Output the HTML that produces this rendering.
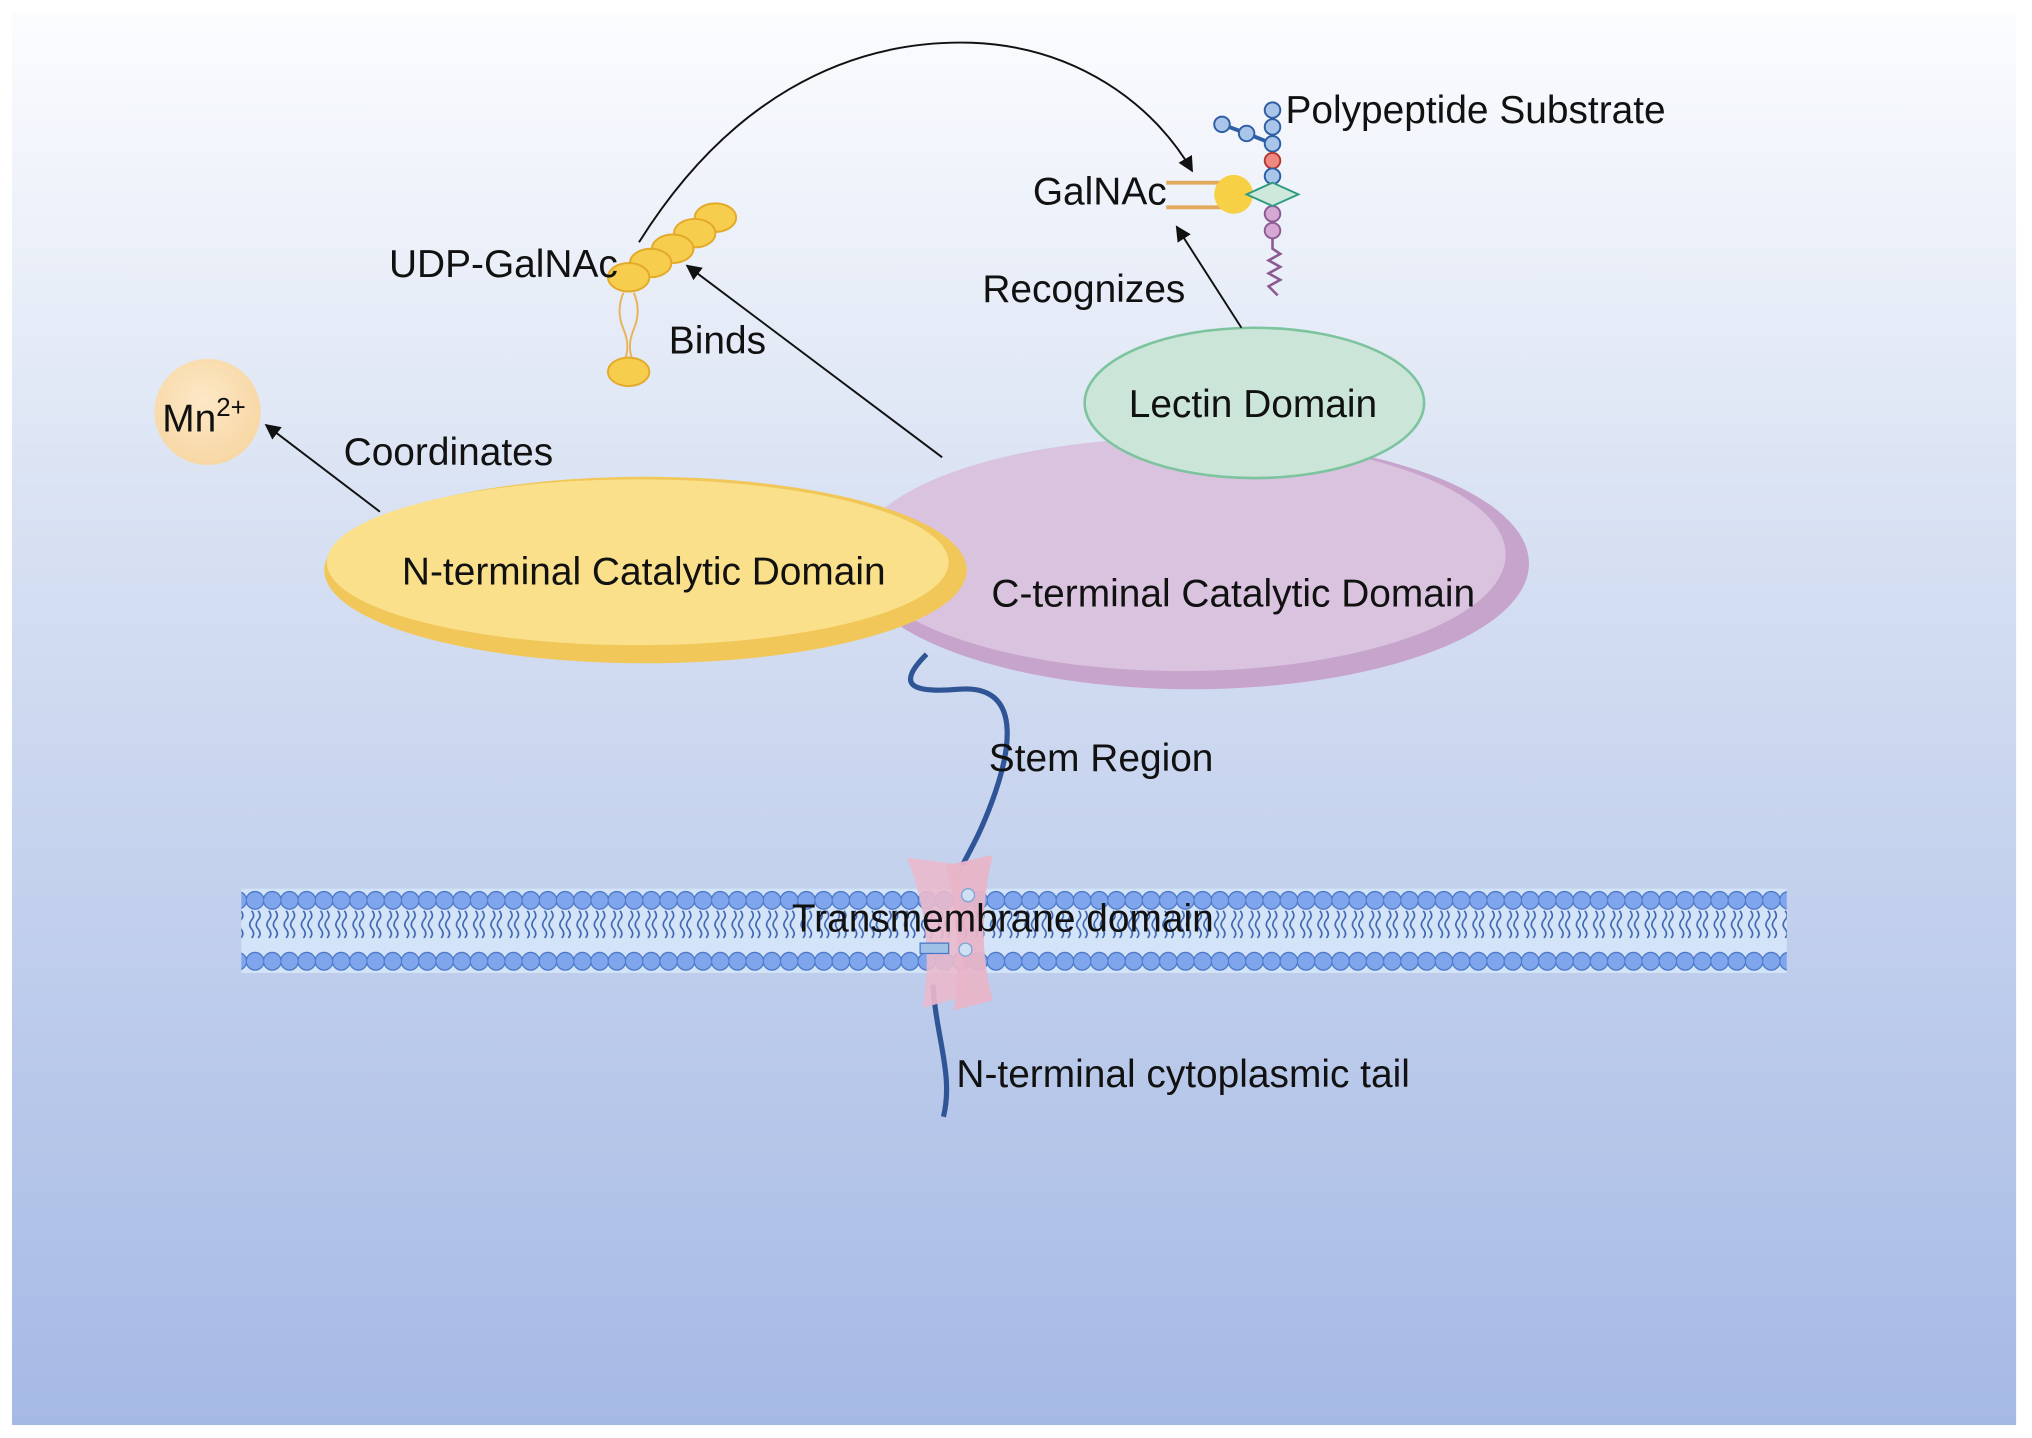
<!DOCTYPE html>
<html><head><meta charset="utf-8"><style>
html,body{margin:0;padding:0;background:#fff}
svg{display:block}
text{font-family:"Liberation Sans",sans-serif;fill:#111}
</style></head><body>
<svg width="2032" height="1438" viewBox="0 0 1568 1110" xmlns="http://www.w3.org/2000/svg">
<defs>
<linearGradient id="bg" x1="0" y1="0" x2="0" y2="1">
<stop offset="0" stop-color="#fbfcfe"/><stop offset="0.35" stop-color="#d9e2f3"/><stop offset="1" stop-color="#a5b9e5"/>
</linearGradient>
<radialGradient id="mn" cx="0.45" cy="0.4" r="0.6"><stop offset="0" stop-color="#fde8c6"/><stop offset="1" stop-color="#f7d7a4"/></radialGradient>
<marker id="ar" viewBox="0 0 10 10" refX="9" refY="5" markerWidth="8" markerHeight="8" orient="auto"><path d="M0,0 L10,5 L0,10 z" fill="#111"/></marker>
<pattern id="bead" x="190" y="0" width="13.3" height="1110" patternUnits="userSpaceOnUse">
<circle cx="6.6" cy="695" r="6.8" fill="#7fa6ec" stroke="#4d78c8" stroke-width="1"/>
<circle cx="6.6" cy="742" r="6.8" fill="#7fa6ec" stroke="#4d78c8" stroke-width="1"/>
<path d="M4,703 q3,4 0,7 q-3,4 0,7 q3,4 0,7 M9,703 q3,4 0,7 q-3,4 0,7 q3,4 0,7" fill="none" stroke="#3c64b0" stroke-width="1.2"/>
</pattern>
</defs>
<rect x="0" y="0" width="1568" height="1110" fill="#fff"/>
<rect x="9" y="10" width="1547" height="1090" fill="url(#bg)"/>

<rect x="186" y="686" width="1193" height="65" fill="#d4e4f8"/>
<rect x="186" y="686" width="1193" height="65" fill="url(#bead)"/>

<path d="M715,505 C690,530 705,535 740,532 C790,528 780,580 765,620 C752,655 742,665 738,680" fill="none" stroke="#2f5597" stroke-width="4"/>
<path d="M720,760 C722,800 736,830 728,862" fill="none" stroke="#2f5597" stroke-width="4"/>

<path d="M700,662 L745,668 Q735,715 748,768 L712,778 Q722,720 700,662 z" fill="#eab9cc" opacity="0.9"/>
<path d="M730,668 L766,660 Q752,720 766,772 L736,780 Q744,720 730,668 z" fill="#e8b4c8" opacity="0.95"/>
<rect x="710" y="728" width="22" height="8" fill="#9fc1e6" stroke="#4d78c8"/>
<circle cx="747" cy="691" r="5" fill="#cfe0f5" stroke="#7aa4d4"/>
<circle cx="745" cy="733" r="5" fill="#cfe0f5" stroke="#7aa4d4"/>

<ellipse cx="920" cy="435" rx="260" ry="97" fill="#c7a4cb"/>
<ellipse cx="912" cy="428" rx="250" ry="90" fill="#d9c3df"/>
<ellipse cx="968" cy="311" rx="131" ry="58" fill="#cbe6d8" stroke="#7cc39e" stroke-width="2"/>
<ellipse cx="498" cy="440" rx="248" ry="72" fill="#f1c759"/>
<ellipse cx="492" cy="434" rx="240" ry="64" fill="#fae08a"/>
<circle cx="160" cy="318" r="41" fill="url(#mn)"/>

<line x1="293" y1="395" x2="205" y2="328" stroke="#111" stroke-width="1.5" marker-end="url(#ar)"/>
<line x1="727" y1="353" x2="530" y2="205" stroke="#111" stroke-width="1.5" marker-end="url(#ar)"/>
<line x1="958" y1="253" x2="908" y2="175" stroke="#111" stroke-width="1.5" marker-end="url(#ar)"/>
<path d="M493,187 C560,80 650,30 750,33 C830,36 890,80 920,132" fill="none" stroke="#111" stroke-width="1.5" marker-end="url(#ar)"/>

<path d="M481,226 q-6,14 0,28 q6,14 0,26 M489,226 q6,14 0,28 q-6,14 0,26" fill="none" stroke="#e9b35a" stroke-width="1.5"/>
<g fill="#f7cd4d" stroke="#e3a92a" stroke-width="1.5">
<ellipse cx="552" cy="168" rx="16" ry="11"/>
<ellipse cx="536" cy="180" rx="16" ry="11"/>
<ellipse cx="519" cy="192" rx="16" ry="11"/>
<ellipse cx="502" cy="203" rx="16" ry="11"/>
<ellipse cx="485" cy="214" rx="16" ry="11"/>
<ellipse cx="485" cy="287" rx="16" ry="11"/>
</g>

<line x1="900" y1="141" x2="945" y2="141" stroke="#e2a95a" stroke-width="3"/>
<line x1="900" y1="160" x2="945" y2="160" stroke="#e2a95a" stroke-width="3"/>
<circle cx="952" cy="150" r="15" fill="#f7d046"/>
<path d="M943,96 L962,103 L982,111" stroke="#2e5ea3" stroke-width="3" fill="none"/>
<line x1="982" y1="85" x2="982" y2="180" stroke="#2e5ea3" stroke-width="2"/>
<g stroke="#2e5ea3" stroke-width="1.5" fill="#a9c6ea">
<circle cx="943" cy="96" r="6"/><circle cx="962" cy="103" r="6"/>
<circle cx="982" cy="85" r="6"/><circle cx="982" cy="98" r="6"/><circle cx="982" cy="111" r="6"/>
<circle cx="982" cy="124" r="6" fill="#f08a80" stroke="#b23a33"/>
<circle cx="982" cy="136" r="6"/>
</g>
<circle cx="982" cy="165" r="6" fill="#d6a8d4" stroke="#8b5a92" stroke-width="1.5"/>
<circle cx="982" cy="178" r="6" fill="#d6a8d4" stroke="#8b5a92" stroke-width="1.5"/>
<path d="M982,184 L982,192 L988,196 L979,201 L988,206 L979,211 L988,216 L979,221 L986,228" fill="none" stroke="#8b5a92" stroke-width="2"/>
<polygon points="962,150 982,141 1002,150 982,159" fill="#cfe8dc" stroke="#2e9a80" stroke-width="1.5"/>

<g font-size="30">
<text x="992" y="95">Polypeptide Substrate</text>
<text x="797" y="158">GalNAc</text>
<text x="300" y="214">UDP-GalNAc</text>
<text x="758" y="233">Recognizes</text>
<text x="516" y="273">Binds</text>
<text x="871" y="322">Lectin Domain</text>
<text x="125" y="333">Mn<tspan font-size="20" dy="-12">2+</tspan></text>
<text x="265" y="359">Coordinates</text>
<text x="310" y="451">N-terminal Catalytic Domain</text>
<text x="765" y="468">C-terminal Catalytic Domain</text>
<text x="763" y="595">Stem Region</text>
<text x="611" y="719">Transmembrane domain</text>
<text x="738" y="839">N-terminal cytoplasmic tail</text>
</g>
</svg>
</body></html>
